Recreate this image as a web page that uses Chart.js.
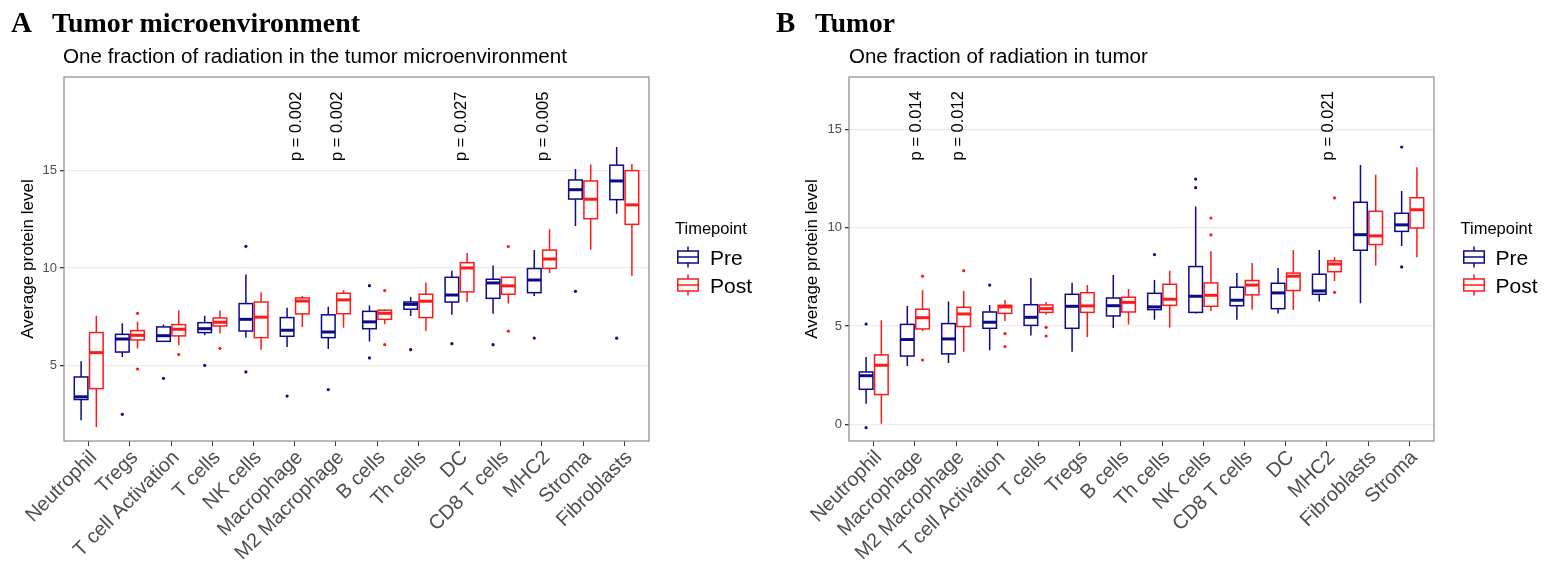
<!DOCTYPE html>
<html><head><meta charset="utf-8">
<script src="https://cdn.jsdelivr.net/npm/chart.js@4.4.1/dist/chart.umd.min.js"></script>
<style>
html,body{margin:0;padding:0;background:#fff;}
body{width:1551px;height:572px;position:relative;overflow:hidden;font-family:"Liberation Sans",Arial,sans-serif;}
.wrap{position:absolute;top:0;height:572px;}
#wA{left:0;width:775px;}
#wB{left:775px;width:776px;}
.t{position:absolute;white-space:nowrap;line-height:1;color:#000;}
.serif{font-family:"Liberation Serif","Times New Roman",serif;font-weight:bold;}
</style></head>
<body>
<div class="wrap" id="wA"><canvas id="cA"></canvas></div>
<div class="wrap" id="wB"><canvas id="cB"></canvas></div>
<div id="texts"></div>
<script>
// ---------------- DATA ----------------
// [lower whisker, Q1, median, Q3, upper whisker]
const categoriesA = ["Neutrophil","Tregs","T cell Activation","T cells","NK cells","Macrophage","M2 Macrophage","B cells","Th cells","DC","CD8 T cells","MHC2","Stroma","Fibroblasts"];
const preA = [
  [2.17,3.24,3.38,4.40,5.21],[5.43,5.68,6.35,6.59,7.16],[6.20,6.23,6.52,6.97,7.09],[6.54,6.68,6.88,7.19,7.55],
  [6.42,6.76,7.36,8.17,9.67],[5.94,6.49,6.80,7.45,7.96],[5.84,6.42,6.71,7.59,8.01],[6.22,6.88,7.23,7.77,8.07],
  [7.53,7.88,8.13,8.25,8.51],[7.59,8.25,8.61,9.52,9.86],[7.65,8.44,9.23,9.42,10.12],[8.56,8.73,9.38,9.97,10.92],
  [12.16,13.54,14.02,14.52,15.09],[12.79,13.51,14.47,15.28,16.21]
];
const postA = [
  [1.83,3.80,5.65,6.68,7.55],[5.86,6.30,6.54,6.78,7.23],[6.03,6.51,6.85,7.09,7.81],[6.63,7.02,7.21,7.43,7.81],
  [5.80,6.42,7.47,8.25,8.75],[6.97,7.64,8.30,8.46,8.56],[6.93,7.65,8.36,8.70,8.85],[7.11,7.36,7.67,7.83,7.86],
  [6.76,7.45,8.29,8.65,9.25],[8.25,8.77,10.00,10.27,10.77],[8.17,8.65,9.08,9.52,9.55],[9.74,9.98,10.46,10.92,11.99],
  [10.94,12.53,13.53,14.47,15.31],[9.59,12.24,13.24,15.00,15.34]
];
const preOutA = [[],[2.48],[4.33],[5.00],[11.11,4.66],[3.42],[3.75],[9.09,5.38],[5.80],[6.11],[6.06],[6.40],[8.80],[6.39]];
const postOutA = [[],[7.67,4.81],[5.55],[5.87],[],[],[],[8.84,6.06],[],[],[11.10,6.75],[],[],[]];
const pValuesA = [null,null,null,null,null,"p = 0.002","p = 0.002",null,null,"p = 0.027",null,"p = 0.005",null,null];

const categoriesB = ["Neutrophil","Macrophage","M2 Macrophage","T cell Activation","T cells","Tregs","B cells","Th cells","NK cells","CD8 T cells","DC","MHC2","Fibroblasts","Stroma"];
const preB = [
  [1.05,1.78,2.47,2.66,3.42],[2.97,3.47,4.31,5.08,6.02],[3.12,3.58,4.34,5.12,6.25],[3.76,4.88,5.19,5.71,6.07],
  [4.51,5.03,5.44,6.08,7.44],[3.69,4.88,6.00,6.61,7.20],[4.90,5.51,6.03,6.42,7.59],[5.31,5.83,5.97,6.66,7.34],
  [5.63,5.69,6.51,8.02,11.08],[5.31,6.03,6.31,6.97,7.69],[5.63,5.88,6.68,7.17,7.95],[6.25,6.61,6.78,7.63,8.86],
  [6.15,8.85,9.64,11.29,13.19],[9.07,9.81,10.14,10.73,11.86]
];
const postB = [
  [0.03,1.51,3.00,3.53,5.29],[4.73,4.85,5.42,5.85,6.81],[3.69,4.97,5.61,5.95,6.78],[5.25,5.64,5.97,6.05,6.32],
  [5.58,5.69,5.88,6.07,6.22],[4.44,5.69,6.02,6.69,7.08],[5.07,5.71,6.20,6.46,6.88],[4.92,6.05,6.36,7.12,7.81],
  [5.76,6.00,6.56,7.19,8.80],[5.83,6.58,7.08,7.31,8.20],[5.81,6.80,7.53,7.69,8.86],[7.29,7.76,8.15,8.31,8.51],
  [8.07,9.14,9.58,10.83,12.69],[8.49,9.98,10.91,11.52,13.07]
];
const preOutB = [[5.10,-0.17],[],[],[7.08],[],[],[],[8.63],[12.47,12.03],[],[],[],[],[14.10,8.00]];
const postOutB = [[],[7.53,3.27],[7.81],[4.61,3.95],[4.93,4.49],[],[],[],[10.49,9.63],[],[],[11.51,6.71],[],[]];
const pValuesB = [null,"p = 0.014","p = 0.012",null,null,null,null,null,null,null,null,"p = 0.021",null,null];

const yTicksA = [5,10,15];
const yTicksB = [0,5,10,15];
const seriesNames = ["Pre","Post"];

// ---------------- STYLE ----------------
const COL_PRE = "#0b0b8c", COL_POST = "#ff1a1a";
const DODGE = 0.185, HALF = 0.165;
const SANS = '"Liberation Sans", Arial, sans-serif';

function makeChart(id, cats, pre, post, preOut, postOut, pvals, pY, yMin, yMax, yTicks, cfg) {
  const outPre = [], outPost = [];
  preOut.forEach((arr,i)=>arr.forEach(v=>outPre.push({x:i-DODGE,y:v})));
  postOut.forEach((arr,i)=>arr.forEach(v=>outPost.push({x:i+DODGE,y:v})));
  const boxPlugin = {
    id:'boxes'+id,
    beforeDatasetsDraw(chart){
      const {ctx, scales:{x,y}} = chart;
      const hw = x.getPixelForValue(HALF) - x.getPixelForValue(0);
      ctx.save();
      [[pre,-DODGE,COL_PRE],[post,DODGE,COL_POST]].forEach(([arr,off,col])=>{
        arr.forEach((b,i)=>{
          const xc = x.getPixelForValue(i+off);
          const [lo,q1,md,q3,hi] = b.map(v=>y.getPixelForValue(v));
          ctx.strokeStyle = col; ctx.lineWidth = 1.5; ctx.lineCap='butt';
          ctx.beginPath(); ctx.moveTo(xc,hi); ctx.lineTo(xc,q3); ctx.moveTo(xc,q1); ctx.lineTo(xc,lo); ctx.stroke();
          ctx.fillStyle = '#fff';
          ctx.fillRect(xc-hw, q3, 2*hw, q1-q3);
          ctx.strokeRect(xc-hw, q3, 2*hw, q1-q3);
          ctx.lineWidth = 3;
          ctx.beginPath(); ctx.moveTo(xc-hw,md); ctx.lineTo(xc+hw,md); ctx.stroke();
        });
      });
      ctx.restore();
    },
    afterDraw(chart){
      const {ctx, chartArea:a, scales:{x,y}} = chart;
      ctx.save();
      ctx.strokeStyle = '#8a8a8a'; ctx.lineWidth = 1.2;
      ctx.strokeRect(a.left, a.top, a.right-a.left, a.bottom-a.top);
      ctx.fillStyle = '#000'; ctx.font = '16.5px ' + SANS;
      pvals.forEach((p,i)=>{
        if(!p) return;
        ctx.save();
        ctx.translate(x.getPixelForValue(i)+2, y.getPixelForValue(pY));
        ctx.rotate(-Math.PI/2);
        ctx.textAlign='left'; ctx.textBaseline='middle';
        ctx.fillText(p,0,0);
        ctx.restore();
      });
      ctx.restore();
    }
  };
  return new Chart(document.getElementById(id), {
    type:'scatter',
    data:{datasets:[
      {label:seriesNames[0], data:outPre, backgroundColor:COL_PRE, borderColor:COL_PRE, pointRadius:1.6, pointBorderWidth:0},
      {label:seriesNames[1], data:outPost, backgroundColor:COL_POST, borderColor:COL_POST, pointRadius:1.6, pointBorderWidth:0}
    ]},
    options:{
      responsive:true, maintainAspectRatio:false, animation:false, devicePixelRatio:1,
      layout:{padding:{left:0,top:77,right:cfg.padRight,bottom:0}},
      plugins:{legend:{display:false}, tooltip:{enabled:false}},
      scales:{
        x:{type:'linear', min:-0.6, max:cats.length-1+0.6,
          afterBuildTicks:s=>{ s.ticks = cats.map((c,i)=>({value:i})); },
          ticks:{autoSkip:false, minRotation:45, maxRotation:45, color:'#4d4d4d', padding:0, labelOffset:5,
                 font:{size:20, family:SANS}, callback:(v)=>cats[v]},
          grid:{drawOnChartArea:false, drawTicks:true, tickLength:5, tickColor:'#333', tickWidth:1},
          border:{display:false},
          afterFit:s=>{ s.height = 131; }
        },
        y:{type:'linear', min:yMin, max:yMax,
          afterBuildTicks:s=>{ s.ticks = yTicks.map(v=>({value:v})); },
          ticks:{color:'#4d4d4d', padding:3, font:{size:13, family:SANS}},
          grid:{color:'#ebebeb', lineWidth:1.3, tickColor:'#333', tickLength:4},
          border:{display:false},
          title:{display:true, text:'Average protein level', color:'#000', font:{size:17, family:SANS}, padding:{top:cfg.titlePad,bottom:0}},
          afterFit:s=>{ s.width = cfg.yWidth; }
        }
      }
    },
    plugins:[boxPlugin]
  });
}

makeChart('cA', categoriesA, preA, postA, preOutA, postOutA, pValuesA, 15.5, 1.11, 19.81, yTicksA, {padRight:126, yWidth:64, titlePad:18});
makeChart('cB', categoriesB, preB, postB, preOutB, postOutB, pValuesB, 13.42, -0.85, 17.66, yTicksB, {padRight:117, yWidth:74, titlePad:27});

// ---------------- TEXT (titles, subtitles, legends) ----------------
const host = document.getElementById('texts');
function addText(txt, left, baseline, opts){
  const el = document.createElement('div');
  el.className = 't' + (opts.serif ? ' serif' : '');
  el.textContent = txt;
  let f = opts.size;
  el.style.fontSize = f + 'px';
  host.appendChild(el);
  if (opts.width) {
    f = f * opts.width / el.getBoundingClientRect().width;
    el.style.fontSize = f.toFixed(2) + 'px';
  }
  const k = opts.serif ? 0.8375 : 0.8465;
  el.style.left = left + 'px';
  el.style.top = (baseline - k*f) + 'px';
  return el;
}
addText('A', 11, 32, {serif:true, size:29});
addText('Tumor microenvironment', 52, 32, {serif:true, size:29, width:308});
addText('B', 776, 32, {serif:true, size:29});
addText('Tumor', 815, 32, {serif:true, size:29, width:80});
addText('One fraction of radiation in the tumor microenvironment', 63, 63.5, {size:18, width:504});
addText('One fraction of radiation in tumor', 849, 63.5, {size:18, width:299});

function glyph(left, cy, col){
  const ns='http://www.w3.org/2000/svg';
  const s=document.createElementNS(ns,'svg');
  s.setAttribute('width','24'); s.setAttribute('height','24');
  s.style.position='absolute'; s.style.left=(left-1)+'px'; s.style.top=(cy-12)+'px';
  s.innerHTML = `<line x1="12" y1="1.5" x2="12" y2="6" stroke="${col}" stroke-width="1.5"/>
    <line x1="12" y1="18" x2="12" y2="22.5" stroke="${col}" stroke-width="1.5"/>
    <rect x="1.75" y="6" width="20.5" height="12" fill="#fff" stroke="${col}" stroke-width="1.5"/>
    <line x1="1.75" y1="12" x2="22.25" y2="12" stroke="${col}" stroke-width="1.5"/>`;
  host.appendChild(s);
}
function legend(left){
  addText('Timepoint', left, 234, {size:16.5});
  glyph(left+2, 257, COL_PRE);
  glyph(left+2, 285, COL_POST);
  addText(seriesNames[0], left+35, 264.5, {size:21});
  addText(seriesNames[1], left+35, 292.5, {size:21});
}
legend(675);
legend(1460.5);
</script>
</body></html>
